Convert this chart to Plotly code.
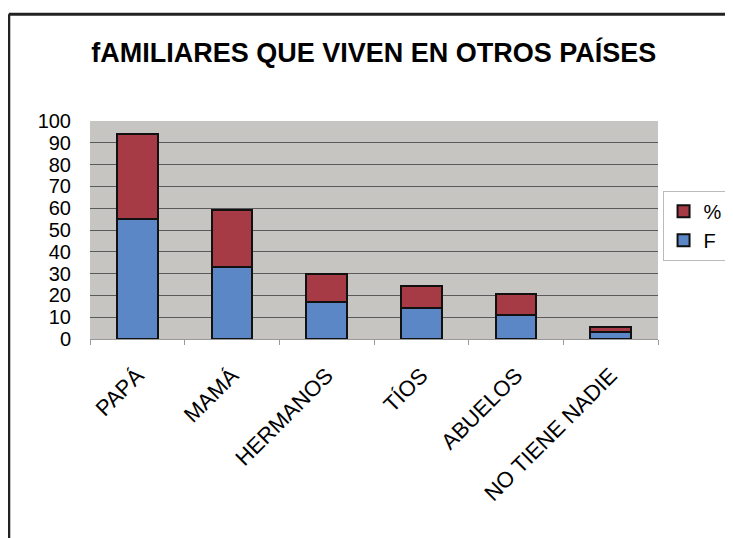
import plotly.graph_objects as go

# datos
categorias = ["PAPÁ", "MAMÁ", "HERMANOS", "TÍOS", "ABUELOS", "NO TIENE NADIE"]
valores_f = [55, 33, 17, 14, 11, 3.3]
valores_pct = [39, 26, 12.6, 10.5, 9.5, 2.2]
ticks_y = [0, 10, 20, 30, 40, 50, 60, 70, 80, 90, 100]

rojo = "#A63A45"
azul = "#5B87C6"

fig = go.Figure()
fig.add_trace(go.Bar(x=categorias, y=valores_f, name="F",
                     marker=dict(color=azul, line=dict(color="#111111", width=2))))
fig.add_trace(go.Bar(x=categorias, y=valores_pct, name="%",
                     marker=dict(color=rojo, line=dict(color="#111111", width=2))))

# marco exterior del grafico (solo arriba e izquierda quedan en la foto)
fig.add_shape(type="line", xref="paper", yref="paper",
              x0=-0.143, x1=1.2, y0=1.49, y1=1.49,
              line=dict(color="#222222", width=3))
fig.add_shape(type="line", xref="paper", yref="paper",
              x0=-0.143, x1=-0.143, y0=1.49, y1=-0.95,
              line=dict(color="#222222", width=3))

fig.update_layout(
    barmode="stack",
    bargap=0.57,
    width=733, height=538,
    margin=dict(l=82, r=83, t=113, b=207, autoexpand=False),
    paper_bgcolor="white",
    plot_bgcolor="#C6C5C2",
    font=dict(family="Liberation Sans, Arial, sans-serif", color="black"),
    title=dict(text="<b>fAMILIARES QUE VIVEN EN OTROS PAÍSES</b>",
               font=dict(family="Liberation Sans, Arial", size=27),
               x=0.499, xanchor="center", y=0.918, yanchor="middle"),
    legend=dict(x=1.008, y=0.68, xanchor="left", yanchor="top",
                traceorder="reversed", itemwidth=30,
                bgcolor="white", bordercolor="#BBBBBB", borderwidth=1,
                font=dict(size=20)),
    showlegend=True,
)
fig.update_xaxes(tickangle=-45, tickfont=dict(size=22), showgrid=False,
                 showline=True, linecolor="#999999", ticks="outside",
                 tickson="boundaries", tickcolor="#999999", ticklen=5,
                 ticklabelstandoff=14)
fig.update_yaxes(range=[0, 100], tickvals=ticks_y, tickfont=dict(size=20),
                 showgrid=True, gridcolor="#5A5A5A", gridwidth=1,
                 ticklabelstandoff=18, zeroline=False)

fig.write_html("out.html")
